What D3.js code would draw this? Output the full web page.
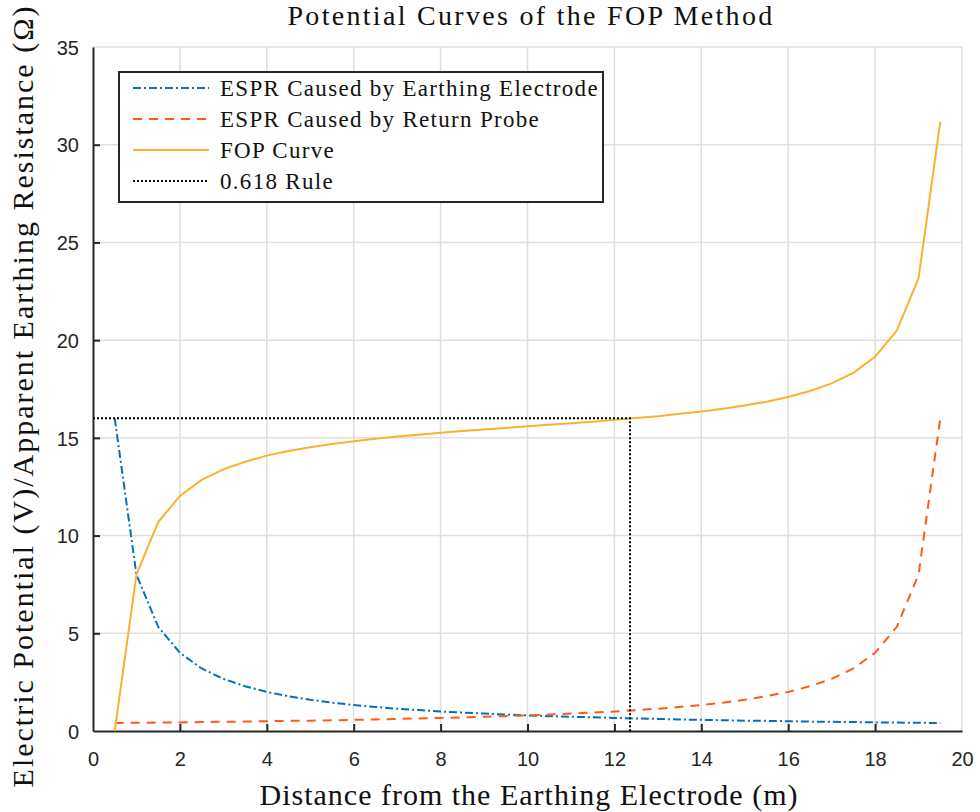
<!DOCTYPE html>
<html>
<head>
<meta charset="utf-8">
<script src="https://cdn.jsdelivr.net/npm/d3@7"></script>
<style>
  body { margin: 0; background: #fff; }
  svg { display: block; }
  .tick text { font-family: "Liberation Sans", Arial, sans-serif; font-size: 20px; fill: #262626; }
  .serif { font-family: "Liberation Serif", "Times New Roman", serif; fill: #111; }
</style>
</head>
<body>
<div id="chart"></div>
<script>
// distance from the earthing electrode (m)
const distance = [0.5, 1, 1.5, 2, 2.5, 3, 3.5, 4, 4.5, 5, 5.5, 6, 6.5, 7, 7.5, 8, 8.5, 9, 9.5, 10,
    10.5, 11, 11.5, 12, 12.5, 13, 13.5, 14, 14.5, 15, 15.5, 16, 16.5, 17, 17.5, 18, 18.5, 19, 19.5];

const esprEarthing = [16, 8, 5.33, 4, 3.2, 2.67, 2.29, 2, 1.78, 1.6, 1.45, 1.33, 1.23, 1.14, 1.07, 1,
    0.94, 0.89, 0.84, 0.8, 0.76, 0.73, 0.7, 0.67, 0.64, 0.62, 0.59, 0.57, 0.55, 0.53, 0.52, 0.5,
    0.48, 0.47, 0.46, 0.44, 0.43, 0.42, 0.41];

const esprReturn = [0.41, 0.42, 0.43, 0.44, 0.46, 0.47, 0.48, 0.5, 0.52, 0.53, 0.55, 0.57, 0.59, 0.62,
    0.64, 0.67, 0.7, 0.73, 0.76, 0.8, 0.84, 0.89, 0.94, 1, 1.07, 1.14, 1.23, 1.33, 1.45, 1.6, 1.78,
    2, 2.29, 2.67, 3.2, 4, 5.33, 8, 16];

const fopCurve = [0, 8.01, 10.69, 12.03, 12.85, 13.39, 13.78, 14.09, 14.33, 14.52, 14.69, 14.83, 14.95,
    15.07, 15.16, 15.26, 15.35, 15.43, 15.51, 15.59, 15.67, 15.75, 15.83, 15.92, 16.02, 16.11, 16.23,
    16.35, 16.49, 16.66, 16.85, 17.09, 17.4, 17.79, 18.33, 19.15, 20.49, 23.17, 31.18];

// 0.618 rule guide: x = 0.618 * 20, y = 16
const ruleX = [0, 12.36, 12.36];
const ruleY = [16, 16, 0];

const xTicks = [0, 2, 4, 6, 8, 10, 12, 14, 16, 18, 20];
const yTicks = [0, 5, 10, 15, 20, 25, 30, 35];

const legendLabels = ["ESPR Caused by Earthing Electrode", "ESPR Caused by Return Probe", "FOP Curve", "0.618 Rule"];

const config = {
    width: 980, height: 812,
    margin: { top: 47, right: 18, bottom: 81, left: 93 }
};

const svg = d3.select("#chart").append("svg")
    .attr("width", config.width)
    .attr("height", config.height);

const w = config.width - config.margin.left - config.margin.right;
const h = config.height - config.margin.top - config.margin.bottom;

const chart = svg.append("g")
    .attr("transform", `translate(${config.margin.left},${config.margin.top})`);

const xScale = d3.scaleLinear().domain([0, 20]).range([0, w]);
const yScale = d3.scaleLinear().domain([0, 35]).range([h, 0]);

// grid
chart.append("g").selectAll("line.gx")
    .data(xTicks.slice(1))
    .join("line")
    .attr("x1", d => xScale(d)).attr("x2", d => xScale(d))
    .attr("y1", 0).attr("y2", h)
    .attr("stroke", "#dfdfdf").attr("stroke-width", 1.5);

chart.append("g").selectAll("line.gy")
    .data(yTicks.slice(1))
    .join("line")
    .attr("x1", 0).attr("x2", w)
    .attr("y1", d => yScale(d)).attr("y2", d => yScale(d))
    .attr("stroke", "#dfdfdf").attr("stroke-width", 1.5);

// axes
const xAxis = d3.axisBottom(xScale).tickValues(xTicks).tickSizeInner(-7).tickSizeOuter(0).tickPadding(21);
const yAxis = d3.axisLeft(yScale).tickValues(yTicks).tickSizeInner(-7).tickSizeOuter(0).tickPadding(14);

const gx = chart.append("g")
    .attr("transform", `translate(0,${h})`)
    .call(xAxis);
const gy = chart.append("g").call(yAxis);

[gx, gy].forEach(g => {
    g.select(".domain").attr("stroke", "#262626").attr("stroke-width", 2);
    g.selectAll(".tick line").attr("stroke", "#262626").attr("stroke-width", 2);
});
gx.selectAll(".tick").filter(d => d === 0 || d === 20).select("line").remove();
gy.selectAll(".tick").filter(d => d === 0 || d === 35).select("line").remove();
gy.selectAll(".tick text").attr("dy", "0.36em");

// series
const pts = arr => distance.map((d, i) => [d, arr[i]]);
const line = d3.line().x(d => xScale(d[0])).y(d => yScale(d[1]));

const series = [
    { values: pts(esprEarthing), color: "#0072BD", dash: "8,3,2,3" },
    { values: pts(esprReturn), color: "#FF5A14", dash: "9,7" },
    { values: pts(fopCurve), color: "#FDB030", dash: null },
    { values: ruleX.map((d, i) => [d, ruleY[i]]), color: "#000000", dash: "2,2" }
];

series.forEach(s => {
    chart.append("path")
        .datum(s.values)
        .attr("fill", "none")
        .attr("stroke", s.color)
        .attr("stroke-width", 2)
        .attr("stroke-dasharray", s.dash)
        .attr("d", line);
});

// legend
const legend = chart.append("g").attr("transform", "translate(26,25)");
legend.append("rect")
    .attr("width", 484).attr("height", 130)
    .attr("fill", "#fff")
    .attr("stroke", "#262626").attr("stroke-width", 2);

legendLabels.forEach((lab, i) => {
    const y = 16 + i * 31;
    legend.append("line")
        .attr("x1", 14).attr("x2", 90)
        .attr("y1", y).attr("y2", y)
        .attr("stroke", series[i].color)
        .attr("stroke-width", 2)
        .attr("stroke-dasharray", series[i].dash);
    legend.append("text")
        .attr("class", "serif")
        .attr("x", 101).attr("y", y)
        .attr("dy", "0.33em")
        .style("font-size", "23px")
        .style("letter-spacing", "1.3px")
        .text(lab);
});

// titles
svg.append("text")
    .attr("class", "serif")
    .attr("x", 531).attr("y", 25)
    .attr("text-anchor", "middle")
    .style("font-size", "28px")
    .style("letter-spacing", "2.3px")
    .text("Potential Curves of the FOP Method");

svg.append("text")
    .attr("class", "serif")
    .attr("x", 529).attr("y", 805)
    .attr("text-anchor", "middle")
    .style("font-size", "30px")
    .style("letter-spacing", "1px")
    .text("Distance from the Earthing Electrode (m)");

svg.append("text")
    .attr("class", "serif")
    .attr("text-anchor", "middle")
    .attr("transform", "translate(33,396) rotate(-90)")
    .style("font-size", "30px")
    .style("letter-spacing", "2px")
    .text("Electric Potential (V)/Apparent Earthing Resistance (Ω)");
</script>
</body>
</html>
